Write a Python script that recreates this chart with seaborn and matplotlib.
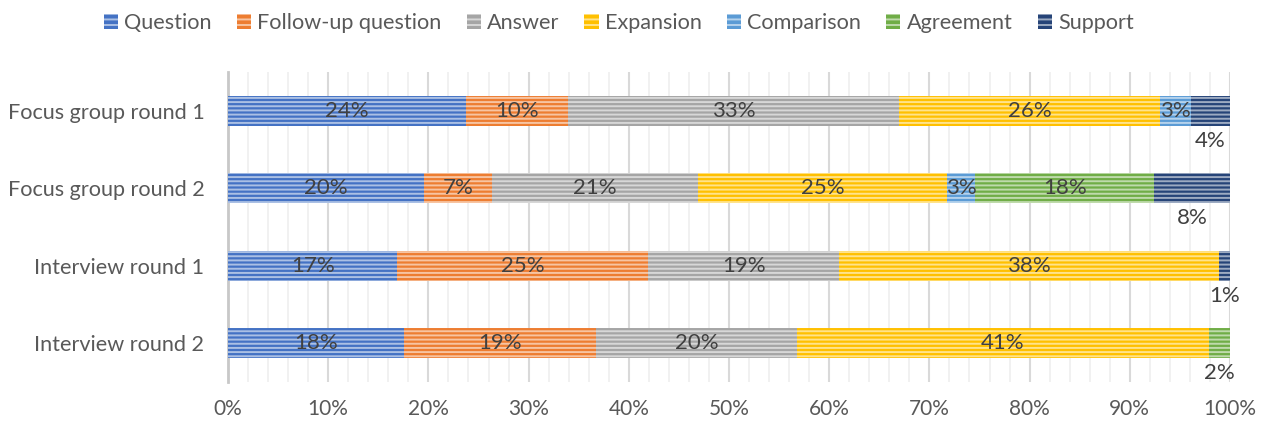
import numpy as np
import pandas as pd
import matplotlib
matplotlib.use("Agg")
import matplotlib.pyplot as plt
import matplotlib.colors as mcolors
from matplotlib.patches import Patch
from matplotlib.ticker import MultipleLocator, PercentFormatter
import seaborn as sns

# ---------------- data ----------------
categories = ["Focus group round 1", "Focus group round 2", "Interview round 1", "Interview round 2"]
series = ["Question", "Follow-up question", "Answer", "Expansion", "Comparison", "Agreement", "Support"]
question = [23.8, 19.6, 16.9, 17.6]
follow_up = [10.1, 6.7, 25.0, 19.1]
answer = [33.1, 20.6, 19.1, 20.1]
expansion = [26.0, 24.9, 37.9, 41.1]
comparison = [3.1, 2.8, 0.0, 0.0]
agreement = [0.0, 17.8, 0.0, 2.1]
support = [3.9, 7.6, 1.1, 0.0]
x_ticks = [0, 10, 20, 30, 40, 50, 60, 70, 80, 90, 100]

colors = ["#4472C4", "#ED7D31", "#A5A5A5", "#FFC000", "#5B9BD5", "#70AD47", "#264478"]

values = [question, follow_up, answer, expansion, comparison, agreement, support]

# ---------------- style ----------------
sns.set_theme(style="white")
plt.rcParams["font.family"] = ["Lato", "DejaVu Sans"]
plt.rcParams["hatch.linewidth"] = 1.4
TEXT = "#595959"


def tint(c, f=0.55):
    r, g, b = mcolors.to_rgb(c)
    return (r + (1 - r) * f, g + (1 - g) * f, b + (1 - b) * f)


fig = plt.figure(figsize=(12.63, 4.22), dpi=100)
ax = fig.add_axes([228 / 1263, 1 - 382 / 422, (1230 - 228) / 1263, (382 - 72) / 422])

vals = np.array(values)  # series x categories
cum = np.cumsum(vals, axis=0)

# draw cumulative bars from the last series back to the first
for i in range(len(series) - 1, -1, -1):
    df = pd.DataFrame({"category": categories, "cum": cum[i]})
    sns.barplot(data=df, x="cum", y="category", orient="h", color=colors[i],
                saturation=1, width=0.39, hatch="----", edgecolor=tint(colors[i]),
                linewidth=0, ax=ax, zorder=3)

# data labels
for j, cat in enumerate(categories):
    nz = [i for i in range(len(series)) if vals[i, j] > 0]
    last = nz[-1]
    for i in nz:
        v = vals[i, j]
        start = cum[i, j] - v
        xc = start + v / 2
        lab = f"{v:.0f}%"
        if i == last:
            ax.text(xc, j + 0.39, lab, ha="center", va="center", fontsize=16,
                    color="#404040", zorder=5)
        else:
            ax.text(xc, j, lab, ha="center", va="center", fontsize=16,
                    color="#404040", zorder=5)

ax.set_xlim(0, 100)
ax.set_ylim(3.5, -0.5)
ax.xaxis.set_major_locator(MultipleLocator(10))
ax.xaxis.set_minor_locator(MultipleLocator(2))
ax.xaxis.set_major_formatter(PercentFormatter(decimals=0))
ax.set_xticks(x_ticks)
ax.grid(axis="x", which="major", color="#D9D9D9", linewidth=1.5, zorder=0)
ax.grid(axis="x", which="minor", color="#EFEFEF", linewidth=1.2, zorder=0)
ax.set_axisbelow(True)
ax.set_xlabel("")
ax.set_ylabel("")
for s in ["top", "right", "bottom"]:
    ax.spines[s].set_visible(False)
ax.spines["left"].set_color("#C8C8C8")
ax.spines["left"].set_linewidth(2)
ax.tick_params(axis="x", which="both", length=0, labelsize=15, labelcolor=TEXT, pad=12)
ax.tick_params(axis="y", length=0, labelsize=15.6, labelcolor=TEXT, pad=17)

handles = [Patch(facecolor=c, edgecolor=tint(c), hatch="---", linewidth=0) for c in colors]
fig.legend(handles, series, loc="center", bbox_to_anchor=(0.49, 0.945), ncol=7,
           frameon=False, fontsize=15.6, labelcolor=TEXT, handlelength=0.65,
           handleheight=0.65, handletextpad=0.3, columnspacing=1.15)

fig.savefig("out.png", dpi=100)
